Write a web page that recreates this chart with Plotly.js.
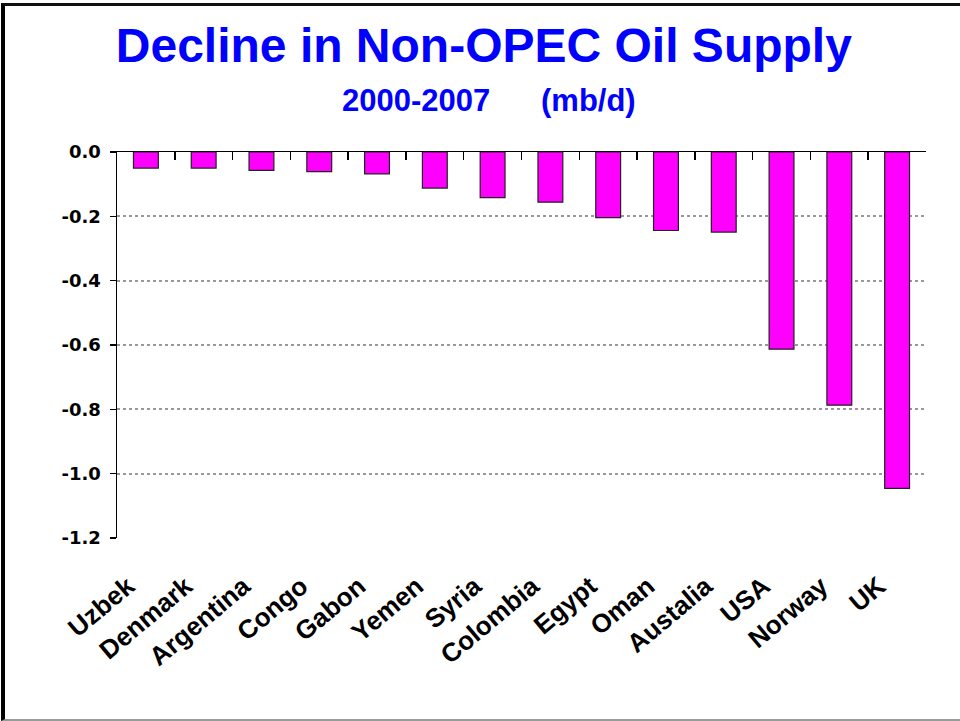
<!DOCTYPE html>
<html>
<head>
<meta charset="utf-8">
<script src="https://cdn.plot.ly/plotly-3.0.1.min.js"></script>
<style>
  html, body { margin: 0; padding: 0; background: #fff; }
  #frame { position: absolute; left: 1px; top: 3px; width: 959px; height: 718px; box-sizing: border-box;
           border-left: 4px solid #000; border-top: 3px solid #111; border-bottom: 2px solid #999; }
  #chart { position: absolute; left: 0; top: 0; width: 960px; height: 721px; }
</style>
</head>
<body>
<div id="frame"></div>
<div id="chart"></div>
<script>
const countries = ["Uzbek", "Denmark", "Argentina", "Congo", "Gabon", "Yemen", "Syria",
                   "Colombia", "Egypt", "Oman", "Austalia", "USA", "Norway", "UK"];
const decline = [-0.050, -0.050, -0.057, -0.061, -0.068, -0.112, -0.142,
                 -0.156, -0.204, -0.244, -0.249, -0.613, -0.787, -1.046];
const yTicks = [0, -0.2, -0.4, -0.6, -0.8, -1.0, -1.2];
const yTickText = ["0.0", "-0.2", "-0.4", "-0.6", "-0.8", "-1.0", "-1.2"];
const titleText = "Decline in Non-OPEC Oil Supply";
const periodText = "2000-2007";
const unitText = "(mb/d)";

const arialBold = { family: "Arial, 'Liberation Sans', sans-serif", weight: "bold" };

const traces = [
  {
    type: "bar",
    x: countries,
    y: decline,
    xaxis: "x",
    yaxis: "y",
    marker: { color: "#FF00FF", line: { color: "#222", width: 1.2 } },
    hoverinfo: "x+y"
  },
  {
    type: "scatter",
    mode: "none",
    x: countries,
    y: decline,
    xaxis: "x2",
    yaxis: "y",
    hoverinfo: "skip",
    showlegend: false
  }
];

const layout = {
  width: 960,
  height: 721,
  paper_bgcolor: "rgba(0,0,0,0)",
  plot_bgcolor: "rgba(0,0,0,0)",
  margin: { l: 117, r: 34, t: 152, b: 183 },
  showlegend: false,
  bargap: 0.57,
  title: {
    text: titleText,
    xref: "container", x: 0.504, xanchor: "center",
    yref: "container", y: 0.938, yanchor: "middle",
    font: Object.assign({}, arialBold, { size: 48, color: "#0000FF" })
  },
  annotations: [
    { text: periodText, xref: "paper", yref: "paper", x: 0.2755, y: 1.134,
      xanchor: "left", yanchor: "middle", showarrow: false,
      font: Object.assign({}, arialBold, { size: 31, color: "#0000FF" }) },
    { text: unitText, xref: "paper", yref: "paper", x: 0.5216, y: 1.134,
      xanchor: "left", yanchor: "middle", showarrow: false,
      font: Object.assign({}, arialBold, { size: 31, color: "#0000FF" }) }
  ],
  xaxis: {
    type: "category",
    range: [-0.5, 13.5],
    showline: false,
    ticks: "",
    showgrid: false,
    zeroline: false,
    tickangle: -40,
    ticklabelstandoff: 27,
    ticklabelshift: -18,
    tickfont: Object.assign({}, arialBold, { size: 26, color: "#000" }),
    fixedrange: true
  },
  xaxis2: {
    type: "category",
    overlaying: "x",
    side: "top",
    anchor: "y",
    range: [-0.5, 13.5],
    showline: true,
    linecolor: "#000",
    linewidth: 1.5,
    ticks: "inside",
    ticklen: 8,
    tickwidth: 1.5,
    tickcolor: "#000",
    tickson: "boundaries",
    showticklabels: false,
    showgrid: false,
    zeroline: false
  },
  yaxis: {
    range: [-1.2, 0],
    tickvals: yTicks,
    ticktext: yTickText,
    showline: true,
    linecolor: "#000",
    linewidth: 1.5,
    ticks: "outside",
    ticklen: 6,
    tickwidth: 1.5,
    tickcolor: "#000",
    ticklabelstandoff: 5,
    showgrid: true,
    gridcolor: "#999",
    gridwidth: 2,
    griddash: "3px,3px",
    zeroline: false,
    tickfont: { family: "'DejaVu Sans', sans-serif", weight: "bold", size: 18, color: "#000" },
    fixedrange: true
  }
};

Plotly.newPlot("chart", traces, layout, { displayModeBar: false, staticPlot: true });
</script>
</body>
</html>
